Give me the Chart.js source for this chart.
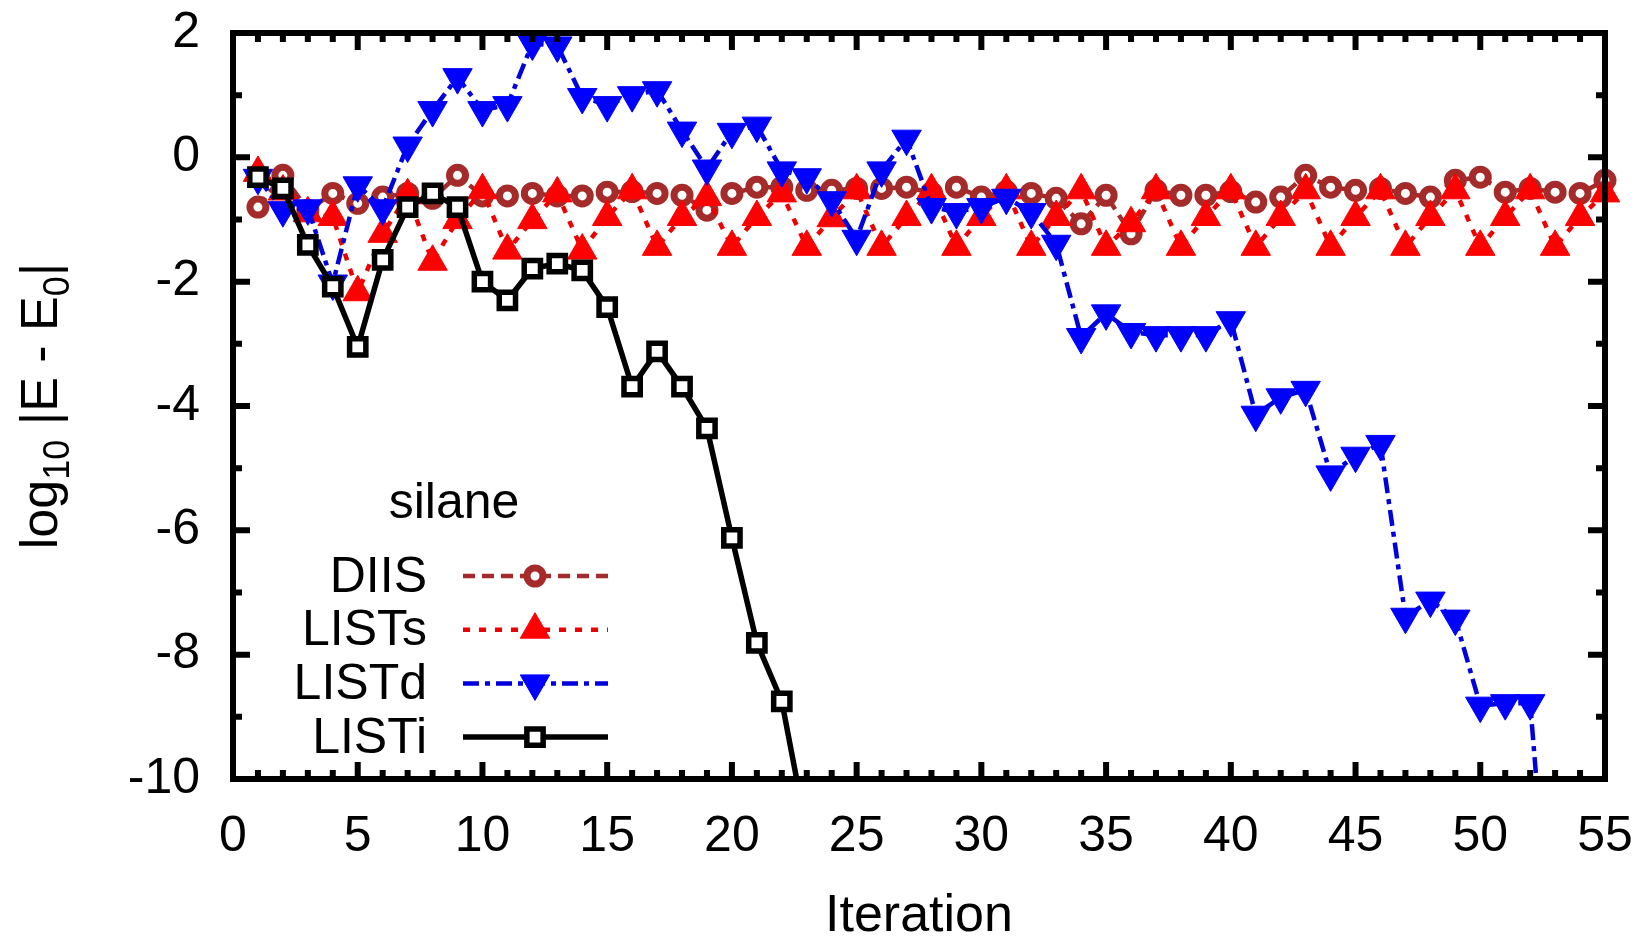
<!DOCTYPE html>
<html>
<head>
<meta charset="utf-8">
<title>silane</title>
<script src="https://cdn.jsdelivr.net/npm/chart.js@4.4.1/dist/chart.umd.min.js"></script>
<style>
  html, body { margin: 0; padding: 0; background: #fff; }
  #wrap { width: 1648px; height: 938px; }
</style>
</head>
<body>
<div id="wrap"><canvas id="chart" width="1648" height="938"></canvas></div>
<script>
// iteration number for every point
const iterations = [1, 2, 3, 4, 5, 6, 7, 8, 9, 10, 11, 12, 13, 14, 15, 16, 17, 18, 19, 20,
  21, 22, 23, 24, 25, 26, 27, 28, 29, 30, 31, 32, 33, 34, 35, 36, 37, 38, 39, 40,
  41, 42, 43, 44, 45, 46, 47, 48, 49, 50, 51, 52, 53, 54, 55];

// log10 |E - E0| per method
const diis = [-0.80, -0.29, -0.85, -0.58, -0.74, -0.64, -0.58, -0.66, -0.29, -0.62,
  -0.62, -0.58, -0.62, -0.62, -0.56, -0.55, -0.58, -0.61, -0.85, -0.58,
  -0.48, -0.48, -0.53, -0.53, -0.50, -0.50, -0.48, -0.57, -0.48, -0.64,
  -0.55, -0.58, -0.66, -1.07, -0.61, -1.23, -0.53, -0.61, -0.61, -0.55,
  -0.72, -0.64, -0.29, -0.48, -0.53, -0.50, -0.58, -0.64, -0.37, -0.32,
  -0.56, -0.50, -0.56, -0.58, -0.37];
const listS = [-0.25, -0.55, -0.90, -0.96, -2.17, -1.23, -0.61, -1.68, -1.01, -0.53,
  -1.50, -1.01, -0.58, -1.50, -0.96, -0.53, -1.44, -0.96, -0.64, -1.44,
  -0.96, -0.58, -1.44, -0.98, -0.53, -1.44, -0.96, -0.53, -1.44, -0.96,
  -0.53, -1.44, -0.96, -0.53, -1.44, -1.06, -0.53, -1.44, -0.96, -0.53,
  -1.44, -0.96, -0.53, -1.44, -0.96, -0.53, -1.44, -0.96, -0.53, -1.44,
  -0.96, -0.53, -1.44, -0.96, -0.58];
const listD = [-0.33, -0.85, -0.82, -2.03, -0.45, -0.82, 0.19, 0.76, 1.29, 0.76,
  0.84, 1.83, 1.80, 0.97, 0.84, 1.00, 1.08, 0.43, -0.18, 0.41,
  0.51, -0.21, -0.32, -0.69, -1.31, -0.21, 0.30, -0.80, -0.88, -0.80,
  -0.65, -0.88, -1.39, -2.89, -2.51, -2.81, -2.86, -2.86, -2.86, -2.62,
  -4.14, -3.86, -3.74, -5.10, -4.80, -4.61, -7.39, -7.13, -7.42, -8.82,
  -8.78, -8.78, -13.7];
const listI = [-0.32, -0.50, -1.41, -2.08, -3.05, -1.65, -0.80, -0.58, -0.80, -2.00,
  -2.30, -1.79, -1.71, -1.82, -2.41, -3.69, -3.12, -3.69, -4.36, -6.12,
  -7.81, -8.75, -10.85];

const methodNames = ["DIIS", "LISTs", "LISTd", "LISTi"];
const legendTitle = "silane";
const xTitle = "Iteration";

const fontFamily = '"Liberation Sans", Arial, Helvetica, sans-serif';
const FS = 50;

function pts(vals) {
  return vals.map((v, i) => ({x: iterations[i], y: v}));
}

// border box plus gnuplot style inward ticks on all four sides
const frame = {
  id: "frame",
  afterDraw(chart) {
    const {ctx, chartArea: a, scales: {x, y}} = chart;
    ctx.save();
    ctx.strokeStyle = "#000";
    ctx.setLineDash([]);
    ctx.lineWidth = 6;
    ctx.lineCap = "butt";
    ctx.beginPath();
    for (let v = x.min; v <= x.max; v++) {
      const px = x.getPixelForValue(v);
      const len = v % 5 === 0 ? 17 : 9;
      ctx.moveTo(px, a.bottom); ctx.lineTo(px, a.bottom - len);
      ctx.moveTo(px, a.top); ctx.lineTo(px, a.top + len);
    }
    for (let v = y.min; v <= y.max; v++) {
      const py = y.getPixelForValue(v);
      const len = v % 2 === 0 ? 17 : 9;
      ctx.moveTo(a.left, py); ctx.lineTo(a.left + len, py);
      ctx.moveTo(a.right, py); ctx.lineTo(a.right - len, py);
    }
    ctx.stroke();
    ctx.lineWidth = 6;
    ctx.strokeRect(a.left, a.top, a.right - a.left, a.bottom - a.top);
    ctx.restore();
  }
};

// y title with real subscripts
const yTitle = {
  id: "yTitle",
  afterDraw(chart) {
    const {ctx, chartArea: a} = chart;
    const big = 52, small = 36;
    const parts = [["log", big, 0], ["10", small, 12], [" |E - E", big, 0], ["0", small, 12], ["|", big, 0]];
    ctx.save();
    ctx.translate(0, (a.top + a.bottom) / 2);
    ctx.rotate(-Math.PI / 2);
    let total = 0;
    const widths = parts.map(p => {
      ctx.font = p[1] + "px " + fontFamily;
      const w = ctx.measureText(p[0]).width;
      total += w;
      return w;
    });
    let xx = -total / 2;
    ctx.fillStyle = "#000";
    ctx.textAlign = "left";
    ctx.textBaseline = "alphabetic";
    parts.forEach((p, i) => {
      ctx.font = p[1] + "px " + fontFamily;
      ctx.fillText(p[0], xx, 57 + p[2]);
      xx += widths[i];
    });
    ctx.restore();
  }
};

// key in the lower left, text first then line sample
const silaneLegend = {
  id: "silaneLegend",
  afterDraw(chart) {
    const ctx = chart.ctx;
    ctx.save();
    ctx.font = FS + "px " + fontFamily;
    ctx.fillStyle = "#000";
    ctx.textAlign = "center";
    ctx.textBaseline = "alphabetic";
    ctx.fillText(legendTitle, 454, 518);
    chart.data.datasets.forEach((ds, i) => {
      const yRow = 576 + 53.7 * i;
      ctx.font = FS + "px " + fontFamily;
      ctx.textAlign = "right";
      ctx.textBaseline = "middle";
      ctx.fillStyle = "#000";
      ctx.fillText(ds.label, 427, yRow + 2);
      ctx.strokeStyle = ds.borderColor;
      ctx.lineWidth = ds.borderWidth;
      ctx.setLineDash(ds.borderDash || []);
      ctx.beginPath();
      ctx.moveTo(463, yRow);
      ctx.lineTo(608, yRow);
      ctx.stroke();
      ctx.setLineDash([]);
      ctx.fillStyle = ds.pointBackgroundColor;
      ctx.strokeStyle = ds.pointBorderColor;
      ctx.lineWidth = ds.pointBorderWidth;
      Chart.helpers.drawPoint(ctx, {
        pointStyle: ds.pointStyle,
        rotation: ds.pointRotation || 0,
        radius: ds.pointRadius,
        borderWidth: ds.pointBorderWidth
      }, 535, yRow);
    });
    ctx.restore();
  }
};

const clipBox = {left: 30, right: 40, top: 30, bottom: 0};

new Chart(document.getElementById("chart").getContext("2d"), {
  type: "line",
  data: {
    datasets: [
      {
        label: methodNames[0],
        data: pts(diis),
        borderColor: "#a52a2a",
        borderWidth: 4.5,
        borderDash: [12, 7],
        pointStyle: "circle",
        pointRadius: 8,
        pointBorderWidth: 7,
        pointBorderColor: "#a52a2a",
        pointBackgroundColor: "#ffffff",
        order: 4,
        clip: clipBox
      },
      {
        label: methodNames[1],
        data: pts(listS),
        borderColor: "#ee0000",
        borderWidth: 4.5,
        borderDash: [7, 9],
        pointStyle: "triangle",
        pointRadius: 17,
        pointBorderWidth: 1,
        pointBorderColor: "#ff0000",
        pointBackgroundColor: "#ff0000",
        order: 3,
        clip: clipBox
      },
      {
        label: methodNames[2],
        data: pts(listD),
        borderColor: "#0000dd",
        borderWidth: 4.5,
        borderDash: [16, 6, 5, 6],
        pointStyle: "triangle",
        pointRotation: 180,
        pointRadius: 17,
        pointBorderWidth: 1,
        pointBorderColor: "#0000ff",
        pointBackgroundColor: "#0000ff",
        order: 2,
        clip: clipBox
      },
      {
        label: methodNames[3],
        data: pts(listI),
        borderColor: "#000000",
        borderWidth: 5.5,
        pointStyle: "rect",
        pointRadius: 11.5,
        pointBorderWidth: 5.5,
        pointBorderColor: "#000000",
        pointBackgroundColor: "#ffffff",
        order: 1,
        clip: clipBox
      }
    ]
  },
  options: {
    responsive: false,
    animation: false,
    layout: {padding: {top: 33, right: 43, left: 0, bottom: 0}},
    plugins: {
      legend: {display: false},
      tooltip: {enabled: false}
    },
    scales: {
      x: {
        type: "linear",
        min: 0,
        max: 55,
        grid: {display: false, drawTicks: false},
        border: {display: false},
        ticks: {
          stepSize: 5,
          color: "#000",
          padding: 28,
          maxRotation: 0,
          font: {family: fontFamily, size: FS}
        },
        title: {
          display: true,
          text: xTitle,
          color: "#000",
          font: {family: fontFamily, size: 52},
          padding: {top: 0, bottom: -10}
        },
        afterFit(scale) {
          scale.height = 159;
          scale.paddingLeft = 0;
          scale.paddingRight = 0;
        }
      },
      y: {
        min: -10,
        max: 2,
        grid: {display: false, drawTicks: false},
        border: {display: false},
        ticks: {
          stepSize: 2,
          color: "#000",
          padding: 33,
          font: {family: fontFamily, size: FS}
        },
        afterFit(scale) {
          scale.width = 233;
          scale.paddingTop = 0;
          scale.paddingBottom = 0;
        }
      }
    }
  },
  plugins: [frame, yTitle, silaneLegend]
});
</script>
</body>
</html>
